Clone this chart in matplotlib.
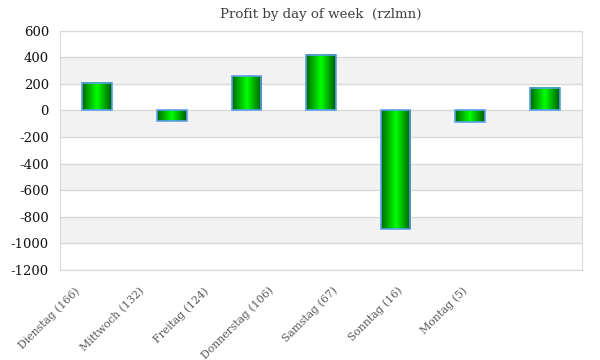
import numpy as np
import matplotlib
matplotlib.use('Agg')
import matplotlib.pyplot as plt
import matplotlib.transforms as mtransforms
from matplotlib.colors import LinearSegmentedColormap

days = ['Dienstag (166)', 'Mittwoch (132)', 'Freitag (124)', 'Donnerstag (106)',
        'Samstag (67)', 'Sonntag (16)', 'Montag (5)']
profit = [208, -80, 255, 420, -893, -90, 172]
yticks = np.arange(-1200, 601, 200)

plt.rcParams['font.family'] = ['DejaVu Serif']
plt.rcParams['axes.unicode_minus'] = False

fig = plt.figure(figsize=(6, 3.6), dpi=100)
ax = fig.add_axes([0.1, 0.25, 0.87, 0.665])

# grey bands between every other gridline
for lo, hi in zip(yticks[:-1], yticks[1:]):
    if hi % 400 == 0:
        ax.axhspan(lo, hi, color='#f2f2f2', zorder=0, lw=0)
for t in yticks:
    ax.axhline(t, color='#d9d9d9', lw=1, zorder=1)

x = np.arange(len(days))
bars = ax.bar(x, profit, width=0.4, facecolor='none', edgecolor='#5aa0ea',
              linewidth=1.2, zorder=4)

# horizontal gradient fill: dark edges, bright centre
cmap = LinearSegmentedColormap.from_list('g', ['#006800', '#00ff00', '#005800'])
grad = np.linspace(0, 1, 256).reshape(1, -1)
for b in bars:
    x0, y0 = b.get_x(), b.get_y()
    w, h = b.get_width(), b.get_height()
    ax.imshow(grad, extent=[x0, x0 + w, min(y0, y0 + h), max(y0, y0 + h)],
              cmap=cmap, aspect='auto', zorder=3, interpolation='bilinear')

ax.set_xlim(-0.5, len(days) - 0.5)
ax.set_ylim(-1200, 600)
ax.set_yticks(yticks)
ax.set_xticks(x)
ax.set_xticklabels(days, rotation=45, ha='right', rotation_mode='anchor',
                   fontsize=7.8, color='#595959')
ax.tick_params(axis='y', length=0, labelsize=9.5, labelcolor='#111111', pad=8)
ax.tick_params(axis='x', length=0, pad=11)

# shift labels like the original rendering
for i, lab in enumerate(ax.get_xticklabels()):
    off = mtransforms.ScaledTranslation(-(23 + 10 * i) / 100, 0, fig.dpi_scale_trans)
    lab.set_transform(lab.get_transform() + off)

for s in ax.spines.values():
    s.set_color('#d9d9d9')

ax.set_title('Profit by day of week  (rzlmn)', fontsize=9.6, color='#404040', pad=9)

fig.savefig('out.png', dpi=100)
